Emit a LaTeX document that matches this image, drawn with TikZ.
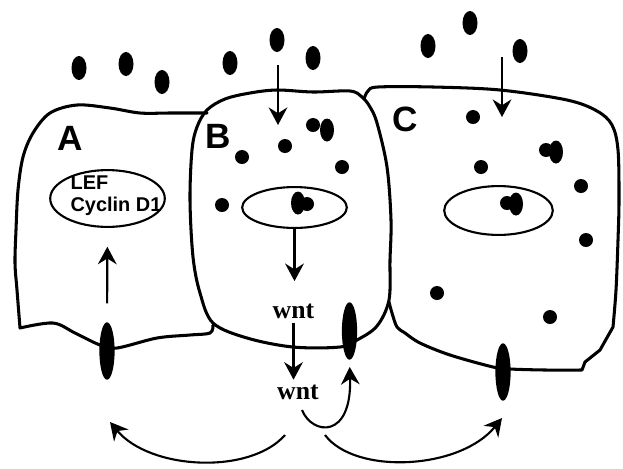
\documentclass[tikz,border=0pt]{standalone}
\usepackage{fontspec}
\usepackage{tikz}
\usetikzlibrary{shapes.geometric,arrows.meta}
\newfontfamily\sanslabel{Liberation Sans}
\newfontfamily\seriflabel{Liberation Serif}

\tikzset{
    cell/.style={line width=2.6pt, line join=round, line cap=round},
    nucleus/.style={ellipse, draw, line width=1.8pt, inner sep=0pt},
    receptor/.style={ellipse, fill=black, inner sep=0pt, minimum width=13pt, minimum height=49pt},
    arr/.style={line width=1.8pt, -{Stealth[length=15pt,width=16pt,inset=5pt]}},
    celllabel/.style={font=\sanslabel\bfseries\fontsize{30}{32}\selectfont, inner sep=0pt},
    genes/.style={font=\sanslabel\bfseries\fontsize{17}{18.5}\selectfont, inner sep=0pt, align=left},
    wnt/.style={font=\seriflabel\bfseries\fontsize{22}{24}\selectfont, inner sep=0pt},
}

\begin{document}
\begin{tikzpicture}[x=0.03cm,y=-0.03cm]
        \useasboundingbox (0,0) rectangle (623,468);

        \draw[cell] plot[smooth, tension=0.55] coordinates {(207,113) (170,113) (140,113) (110,108) (77,105) (50,113) (33,133) (23,157) (18,190) (16,230) (15,263) (17,290) (20,328)}
            -- plot[smooth, tension=0.55] coordinates {(20,328) (53,323) (75,333) (100,345) (117,348) (157,338) (190,335) (210,333) (213,325)};
        \draw[cell] plot[smooth cycle, tension=0.55] coordinates {(207,110) (225,99) (250,93) (277,90) (313,92) (350,91) (362,97) (370,107) (377,123) (387,167) (391,220) (390,260) (389,300) (377,326) (357,340) (340,347) (293,347) (247,338) (213,323) (200,293) (193,257) (190,200) (192,150) (197,127)};
        \draw[cell] plot[smooth, tension=0.55] coordinates {(364,99) (368,91) (378,87) (433,87) (500,90) (567,100) (597,111) (612,125) (618,150) (619,200) (618,240) (616,290) (613,327)}
            -- (600,350) -- (585,362) -- (582,370)
            -- plot[smooth, tension=0.55] coordinates {(582,370) (545,370) (510,369) (493,367) (450,355) (420,343) (405,333) (397,327) (392,313) (389,302)};

        \node[nucleus, minimum width=97.8pt, minimum height=48.5pt] (nucA) at (107.5,198.5) {};
        \node[nucleus, minimum width=89.3pt, minimum height=34.9pt] (nucB) at (294.5,207.5) {};
        \node[nucleus, minimum width=92.7pt, minimum height=41.7pt] (nucC) at (498.5,210.5) {};
        \node[genes] (genesA) at (116,196) {LEF\\Cyclin D1};

        \node[receptor] (recA) at (107,351) {};
        \node[receptor] (recB) at (349.5,331) {};
        \node[receptor] (recC) at (503,372) {};

        \node[celllabel] (labA) at (70.5,138.5) {A};
        \node[celllabel] (labB) at (218,136) {B};
        \node[celllabel] (labC) at (405.5,119) {C};

        \node[wnt] (wnt1) at (293.5,311) {wnt};
        \node[wnt] (wnt2) at (298,392) {wnt};

        \foreach \x/\y in {79/68, 126/64, 162/82, 230/63, 277/40, 313/58, 428/46, 470/23, 520/51}
            \fill (\x,\y) ellipse[x radius=7.5, y radius=12];

        \foreach \x/\y in {242/157, 285/146, 342/167, 222/205, 313/125, 307/204,
                           473/117, 481/167, 546/150, 581/186, 586/240, 437/293, 550/317, 507/203}
            \fill (\x,\y) circle[radius=7];
        \foreach \x/\y in {327/130, 298/203, 556/152, 516/204}
            \fill (\x,\y) ellipse[x radius=7, y radius=11.5];

        \coordinate (sigB) at (278,65);
        \coordinate (sigBin) at (278,125);
        \coordinate (sigC) at (502,57);
        \coordinate (sigCin) at (502,117);
        \draw[arr] (sigB) -- (sigBin);
        \draw[arr] (sigC) -- (sigCin);

        \draw[arr, shorten <=16pt, shorten >=16pt] (recA) -- (nucA);
        \draw[arr, shorten >=19pt] (nucB) -- (nucB |- wnt1.north);
        \draw[arr, shorten <=3.5pt, shorten >=4pt] (wnt1) -- (wnt1 |- wnt2.north);

        \coordinate (wntout) at (302,410);
        \coordinate (leftout) at (285,435);
        \coordinate (rightout) at (325,435);
        \coordinate (toA) at (110,422);
        \coordinate (toC) at (502,418);
        \draw[arr, shorten >=6pt] (wntout) .. controls (312,435) and (352,440) .. (recB.south);
        \draw[arr] (leftout) .. controls (250,475) and (150,470) .. (toA);
        \draw[arr] (rightout) .. controls (355,475) and (460,470) .. (toC);
    \end{tikzpicture}
\end{document}
